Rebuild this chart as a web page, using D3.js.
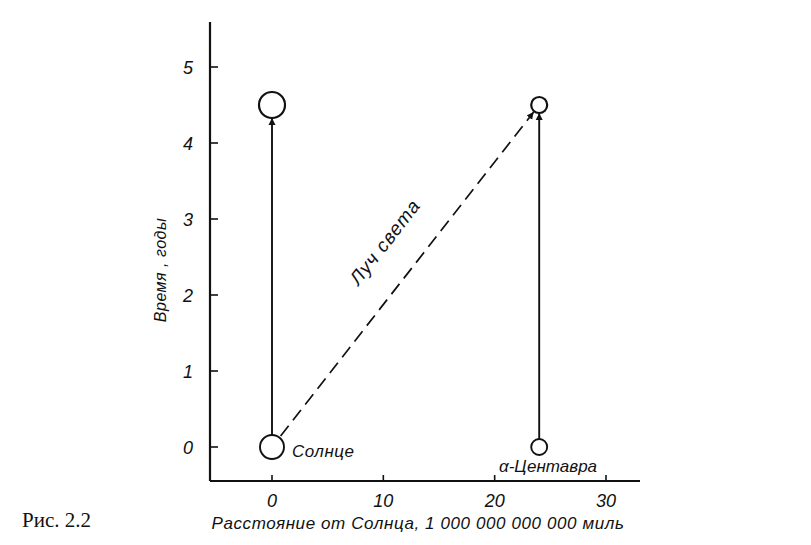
<!DOCTYPE html>
<html>
<head>
<meta charset="utf-8">
<script src="https://cdn.jsdelivr.net/npm/d3@7"></script>
<style>
  body { margin: 0; background: #fff; }
  svg { display: block; }
  text { font-family: 'Liberation Sans', sans-serif; font-style: italic; fill: #111; }
</style>
</head>
<body>
<svg id="chart" width="811" height="545"></svg>
<script>
// data (distance in 10^12 miles, time in years)
const xTicks = [0, 10, 20, 30];
const yTicks = [0, 1, 2, 3, 4, 5];
const stars = [
  { name: 'Солнце', x: 0, r: 12 },
  { name: 'α-Центавра', x: 24, r: 8 }
];
const worldlineTimes = [0, 4.5];
const endRadius = [13, 8];
const ray = [{ x: 0, t: 0 }, { x: 24, t: 4.5 }];

const svg = d3.select('#chart');
const x = d3.scaleLinear().domain([0, 30]).range([272, 606]);
const y = d3.scaleLinear().domain([0, 5]).range([447, 67]);
const x0 = 210, yBase = 481;

const defs = svg.append('defs');
defs.append('marker')
  .attr('id', 'arr')
  .attr('viewBox', '0 0 10 10')
  .attr('refX', 10).attr('refY', 5)
  .attr('markerWidth', 7).attr('markerHeight', 8)
  .attr('markerUnits', 'userSpaceOnUse')
  .attr('orient', 'auto')
  .append('path').attr('d', 'M0,0 L10,5 L0,10 z').attr('fill', '#111');

// axes
svg.append('line').attr('x1', x0).attr('x2', x0).attr('y1', 22).attr('y2', yBase)
  .attr('stroke', '#111').attr('stroke-width', 2.2);
svg.append('line').attr('x1', x0).attr('x2', 640).attr('y1', yBase).attr('y2', yBase)
  .attr('stroke', '#111').attr('stroke-width', 2.2);

svg.selectAll('.ytick').data(yTicks).enter().append('line')
  .attr('x1', x0).attr('x2', x0 + 8)
  .attr('y1', d => y(d)).attr('y2', d => y(d))
  .attr('stroke', '#111').attr('stroke-width', 1.6);
svg.selectAll('.ylab').data(yTicks).enter().append('text')
  .attr('x', 193).attr('y', d => y(d) + 7)
  .attr('text-anchor', 'end').style('font-size', '18px')
  .text(d => d);

svg.selectAll('.xtick').data(xTicks).enter().append('line')
  .attr('x1', d => x(d)).attr('x2', d => x(d))
  .attr('y1', yBase).attr('y2', yBase - 6)
  .attr('stroke', '#111').attr('stroke-width', 1.6);
svg.selectAll('.xlab').data(xTicks).enter().append('text')
  .attr('x', d => x(d)).attr('y', 507)
  .attr('text-anchor', 'middle').style('font-size', '18px')
  .text(d => d);

// world lines
stars.forEach((s, i) => {
  const cx = x(s.x);
  svg.append('line')
    .attr('x1', cx).attr('x2', cx)
    .attr('y1', y(0) - s.r).attr('y2', y(worldlineTimes[1]) + endRadius[i])
    .attr('stroke', '#111').attr('stroke-width', 1.9)
    .attr('marker-end', 'url(#arr)');
  svg.append('circle').attr('cx', cx).attr('cy', y(0)).attr('r', s.r)
    .attr('fill', '#fff').attr('stroke', '#111').attr('stroke-width', 1.9);
  svg.append('circle').attr('cx', cx).attr('cy', y(worldlineTimes[1])).attr('r', endRadius[i])
    .attr('fill', '#fff').attr('stroke', '#111').attr('stroke-width', 2.2);
});

// light ray
const rx1 = x(ray[0].x), ry1 = y(ray[0].t), rx2 = x(ray[1].x), ry2 = y(ray[1].t);
const ang = Math.atan2(ry2 - ry1, rx2 - rx1);
svg.append('line')
  .attr('x1', rx1 + Math.cos(ang) * 14).attr('y1', ry1 + Math.sin(ang) * 14)
  .attr('x2', rx2 - Math.cos(ang) * 9).attr('y2', ry2 - Math.sin(ang) * 9)
  .attr('stroke', '#111').attr('stroke-width', 1.7)
  .attr('stroke-dasharray', '13,7')
  .attr('marker-end', 'url(#arr)');

svg.append('text')
  .attr('transform', `translate(390,246) rotate(${ang * 180 / Math.PI})`)
  .attr('text-anchor', 'middle').style('font-size', '19px').style('letter-spacing', '1px')
  .text('Луч света');

// star labels
svg.append('text').attr('x', 292).attr('y', 457).style('font-size', '17px')
  .style('letter-spacing', '0.5px').text(stars[0].name);
svg.append('text').attr('x', 548).attr('y', 472).attr('text-anchor', 'middle')
  .style('font-size', '17px').text(stars[1].name);

// axis titles
svg.append('text')
  .attr('transform', 'translate(166,270) rotate(-90)')
  .attr('text-anchor', 'middle').style('font-size', '16px').style('letter-spacing', '0.5px')
  .text('Время , годы');
svg.append('text').attr('x', 418).attr('y', 529).attr('text-anchor', 'middle')
  .style('font-size', '17px').style('letter-spacing', '0.6px')
  .text('Расстояние от Солнца, 1 000 000 000 000 миль');

svg.append('text').attr('x', 22).attr('y', 527)
  .style('font-family', "'Liberation Serif', serif").style('font-style', 'normal')
  .style('font-size', '21px').text('Рис. 2.2');
</script>
</body>
</html>
